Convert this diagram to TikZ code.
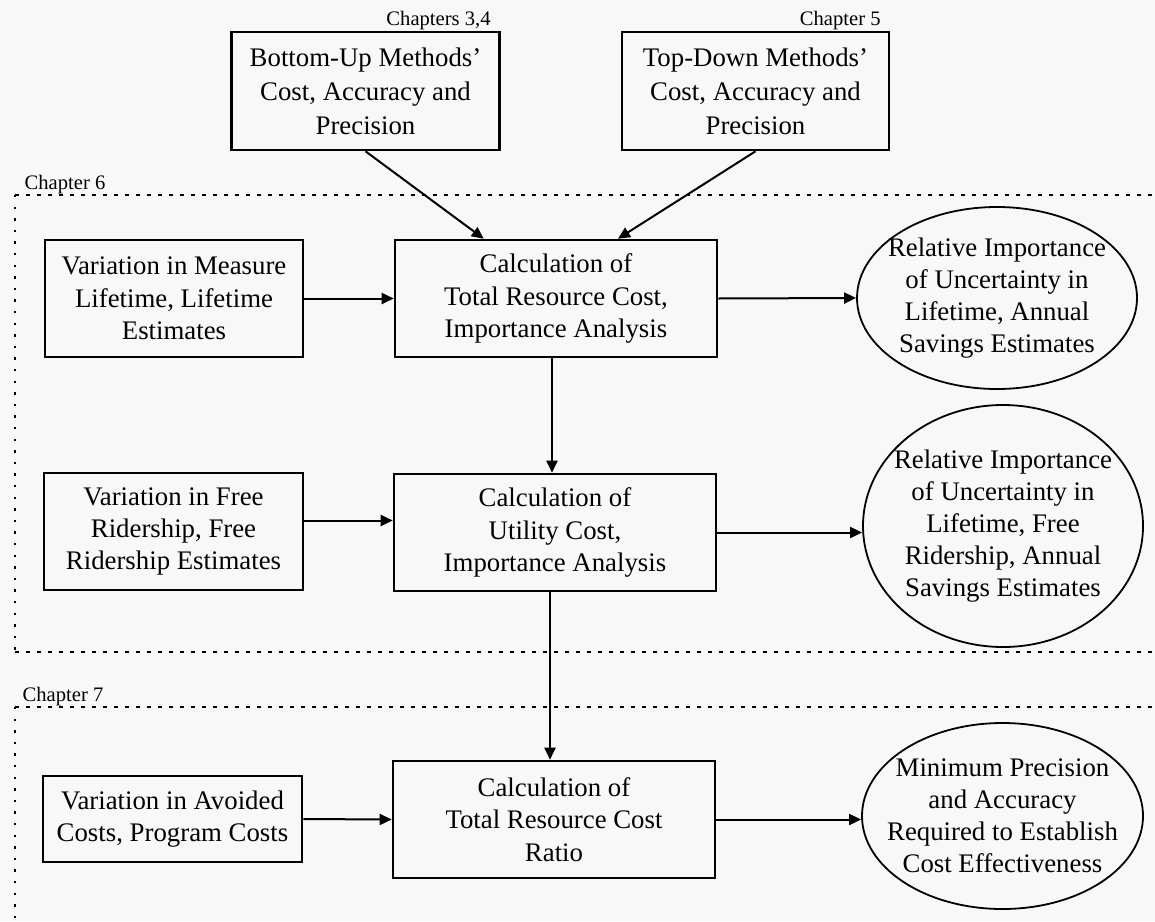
\documentclass[tikz,border=0pt]{standalone}
\usepackage{fontspec}
\setmainfont{Liberation Serif}
\usetikzlibrary{arrows.meta,shapes.geometric}
\definecolor{bg}{RGB}{248,248,248}
\begin{document}
\begin{tikzpicture}[x=0.5pt,y=-0.5pt,
 box/.style={draw, line width=1.3pt, align=center, inner sep=0pt, font=\fontsize{13.4}{16.2}\selectfont},
 topbox/.style={box, font=\fontsize{13.4}{17}\selectfont},
 oval/.style={draw, ellipse, line width=0.9pt, inner sep=0pt},
 ovaltext/.style={align=center, inner sep=0pt, font=\fontsize{13.4}{16}\selectfont},
 chap/.style={inner sep=0pt, font=\fontsize{10.3}{12}\selectfont},
 arr/.style={-{Triangle[length=6pt,width=5.5pt]}, line width=1pt},
 chapline/.style={line width=1pt, dash pattern=on 2pt off 3.5pt},
 chapside/.style={line width=1.4pt, dash pattern=on 1.2pt off 4.6pt},
]
\fill[bg] (0,0) rectangle (1155,921);
\useasboundingbox (0,0) rectangle (1155,921);

% chapter frames
\draw[chapline] (15,195) -- (1155,195);
\draw[chapside] (15,195) -- (15,652);
\draw[chapline] (15,652) -- (1155,652);
\draw[chapline] (15,707) -- (1155,707);
\draw[chapside] (15,707) -- (15,921);

% chapter labels
\node[chap, anchor=south east] (ch34) at (491,30) {Chapters 3,4};
\node[chap, anchor=south east] (ch5) at (881,30) {Chapter 5};
\node[chap] (ch6) at (65,185) {Chapter 6};
\node[chap] (ch7) at (63,697) {Chapter 7};

% top boxes
\node[topbox, minimum width=134pt, minimum height=59pt] (bu) at (365.5,91) {Bottom-Up Methods’\\Cost, Accuracy and\\Precision};
\node[topbox, minimum width=133.5pt, minimum height=59pt] (td) at (755.5,91) {Top-Down Methods’\\Cost, Accuracy and\\Precision};

% row 1
\node[box, minimum width=129pt, minimum height=58.5pt] (varm) at (174,298.5) {Variation in Measure\\Lifetime, Lifetime\\Estimates};
\node[box, minimum width=161pt, minimum height=58.5pt] (calcA) at (556,298.5) {Calculation of\\Total Resource Cost,\\Importance Analysis};
\node[oval, minimum width=140pt, minimum height=91pt] (el1) at (997,298) {};
\node[ovaltext] (el1t) at (el1.center) {Relative Importance\\of Uncertainty in\\Lifetime, Annual\\Savings Estimates};

% row 2
\node[box, minimum width=129.5pt, minimum height=58.5pt] (varf) at (173.5,531.5) {Variation in Free\\Ridership, Free\\Ridership Estimates};
\node[box, minimum width=161pt, minimum height=58.5pt] (calcB) at (555,532.5) {Calculation of\\Utility Cost,\\Importance Analysis};
\node[oval, minimum width=140pt, minimum height=121pt] (el2) at (1003,526) {};
\node[ovaltext] (el2t) at (el2.center) {Relative Importance\\of Uncertainty in\\Lifetime, Free\\Ridership, Annual\\Savings Estimates};

% row 3
\node[box, minimum width=129.5pt, minimum height=43pt] (varav) at (172.5,819) {Variation in Avoided\\Costs, Program Costs};
\node[box, minimum width=161pt, minimum height=58.5pt] (calcC) at (554,819.5) {Calculation of\\Total Resource Cost\\Ratio};
\node[oval, minimum width=140.5pt, minimum height=93pt] (el3) at (1002.5,816) {};
\node[ovaltext] (el3t) at (el3.center) {Minimum Precision\\and Accuracy\\Required to Establish\\Cost Effectiveness};

% connectors
\draw[arr] (bu.south) -- ([xshift=45pt]calcA.north west);
\draw[arr] (td.south) -- ([xshift=31pt]calcA.north);
\draw[arr] (varm.east) -- (calcA.west);
\draw[arr] (calcA.east) -- (el1.west);
\draw[arr] ([xshift=-2pt]calcA.south) -- ([xshift=-1.5pt]calcB.north);
\draw[arr] ([yshift=5.5pt]varf.east) -- ([yshift=5.5pt]varf.east -| calcB.west);
\draw[arr] (calcB.east) -- (calcB.east -| el2.west);
\draw[arr] ([xshift=-2.5pt]calcB.south) -- ([xshift=-2pt]calcC.north);
\draw[arr] (varav.east) -- (calcC.west);
\draw[arr] (calcC.east) -- (calcC.east -| el3.west);
\end{tikzpicture}
\end{document}
